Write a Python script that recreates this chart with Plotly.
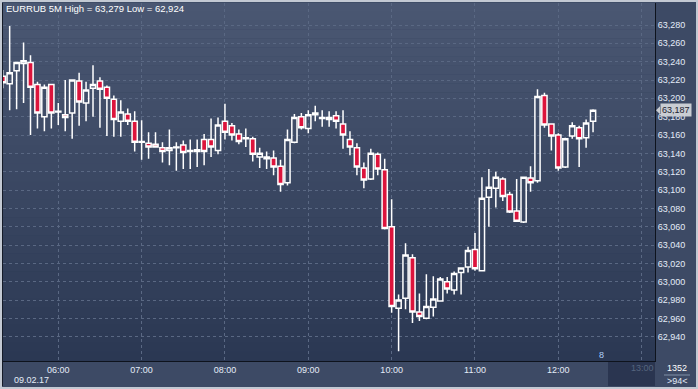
import pandas as pd
import plotly.graph_objects as go

# ---- data (EURRUB, 5-minute candles, 09.02.17) ----
start_time = "2017-02-09 05:20"
opens = [63.224, 63.216, 63.230, 63.238, 63.239, 63.215, 63.180, 63.215, 63.185, 63.182,
         63.184, 63.219, 63.195, 63.211, 63.219, 63.212, 63.199, 63.175, 63.183, 63.175,
         63.152, 63.151, 63.150, 63.146, 63.143, 63.146, 63.149, 63.142, 63.142, 63.155,
         63.155, 63.143, 63.175, 63.170, 63.161, 63.156, 63.156, 63.136, 63.134, 63.135,
         63.126, 63.108, 63.152, 63.180, 63.167, 63.182, 63.178, 63.177, 63.181, 63.172,
         63.155, 63.146, 63.124, 63.112, 63.139, 63.122, 63.060, 62.971, 62.982, 63.026,
         62.967, 62.960, 62.972, 62.979, 63.000, 62.991, 63.010, 63.016, 63.035, 63.012,
         63.092, 63.102, 63.112, 63.095, 63.077, 63.065, 63.113, 63.110, 63.203, 63.172,
         63.160, 63.125, 63.159, 63.168, 63.157, 63.175]
highs = [63.231, 63.279, 63.240, 63.261, 63.247, 63.218, 63.215, 63.216, 63.195, 63.220,
         63.220, 63.228, 63.218, 63.236, 63.223, 63.214, 63.203, 63.198, 63.189, 63.186,
         63.176, 63.163, 63.163, 63.152, 63.166, 63.152, 63.154, 63.155, 63.155, 63.161,
         63.178, 63.179, 63.194, 63.173, 63.166, 63.167, 63.158, 63.146, 63.142, 63.143,
         63.133, 63.166, 63.183, 63.184, 63.187, 63.192, 63.187, 63.186, 63.186, 63.187,
         63.164, 63.151, 63.130, 63.145, 63.141, 63.134, 63.090, 62.986, 63.042, 63.030,
         62.987, 63.008, 63.006, 63.005, 63.005, 63.011, 63.015, 63.038, 63.053, 63.114,
         63.123, 63.120, 63.114, 63.098, 63.112, 63.114, 63.126, 63.210, 63.206, 63.172,
         63.162, 63.157, 63.174, 63.170, 63.177, 63.188]
lows = [63.211, 63.187, 63.188, 63.195, 63.160, 63.167, 63.164, 63.167, 63.171, 63.164,
        63.156, 63.170, 63.175, 63.180, 63.168, 63.159, 63.158, 63.158, 63.171, 63.142,
        63.133, 63.134, 63.146, 63.130, 63.127, 63.121, 63.123, 63.123, 63.125, 63.127,
        63.136, 63.139, 63.155, 63.154, 63.150, 63.147, 63.131, 63.124, 63.123, 63.116,
        63.098, 63.105, 63.151, 63.166, 63.162, 63.175, 63.169, 63.169, 63.167, 63.145,
        63.138, 63.116, 63.102, 63.111, 63.116, 63.057, 62.966, 62.924, 62.970, 62.955,
        62.957, 62.959, 62.962, 62.978, 62.987, 62.986, 62.986, 63.010, 63.012, 63.012,
        63.060, 63.081, 63.088, 63.075, 63.065, 63.064, 63.098, 63.108, 63.168, 63.143,
        63.121, 63.124, 63.156, 63.125, 63.146, 63.163]
closes = [63.217, 63.228, 63.239, 63.241, 63.212, 63.184, 63.212, 63.184, 63.186, 63.179,
          63.220, 63.196, 63.209, 63.215, 63.210, 63.200, 63.177, 63.185, 63.175, 63.152,
          63.153, 63.147, 63.147, 63.142, 63.146, 63.147, 63.141, 63.143, 63.144, 63.142,
          63.147, 63.171, 63.163, 63.160, 63.153, 63.157, 63.139, 63.140, 63.136, 63.125,
          63.106, 63.155, 63.179, 63.168, 63.182, 63.184, 63.179, 63.179, 63.175, 63.160,
          63.147, 63.125, 63.111, 63.140, 63.123, 63.058, 62.973, 62.980, 63.029, 62.967,
          62.962, 62.973, 62.981, 63.003, 62.992, 63.009, 63.015, 63.034, 63.014, 63.091,
          63.103, 63.114, 63.093, 63.076, 63.066, 63.114, 63.108, 63.202, 63.171, 63.159,
          63.124, 63.156, 63.170, 63.156, 63.173, 63.187]
times = pd.date_range(start_time, periods=len(opens), freq="5min")

title_text = "EURRUB 5M High = 63,279 Low = 62,924"
last_price = 63.187
y_ticks = [62.940, 62.960, 62.980, 63.000, 63.020, 63.040, 63.060, 63.080, 63.100,
           63.120, 63.140, 63.160, 63.180, 63.200, 63.220, 63.240, 63.260, 63.280]
x_ticks = ["2017-02-09 06:00", "2017-02-09 07:00", "2017-02-09 08:00", "2017-02-09 09:00",
           "2017-02-09 10:00", "2017-02-09 11:00", "2017-02-09 12:00", "2017-02-09 13:00"]
x_ticktext = ["06:00", "07:00", "08:00", "09:00", "10:00", "11:00", "12:00", ""]
date_label = "09.02.17"

# ---- layout geometry (pixels) ----
W, H = 698, 389
L, R, T, B = 3, 43, 3, 28
PW, PH = W - L - R, H - T - B


def px(x):
    return (x - L) / PW


def py(y):
    return (T + PH - y) / PH


FONT = "Liberation Sans, Arial, sans-serif"
fig = go.Figure()
fig.add_trace(go.Candlestick(
    x=times, open=opens, high=highs, low=lows, close=closes,
    increasing=dict(line=dict(color="#ffffff", width=1.5), fillcolor="rgba(0,0,0,0)"),
    decreasing=dict(line=dict(color="#ffffff", width=1.5), fillcolor="#dc143c"),
    whiskerwidth=0, showlegend=False, hoverinfo="skip",
))

shapes = []
# vertical gradient background of the plot area
top_c = (0x4a, 0x57, 0x72)
bot_c = (0x2b, 0x38, 0x53)
n = 40
for i in range(n):
    f = i / (n - 1)
    c = tuple(round(top_c[k] + (bot_c[k] - top_c[k]) * f) for k in range(3))
    shapes.append(dict(type="rect", xref="paper", yref="paper", x0=0, x1=1,
                       y0=1 - (i + 1) / n, y1=1 - i / n + 0.001,
                       fillcolor="rgb(%d,%d,%d)" % c, line=dict(width=0), layer="below"))
# dark "future" band on the time axis
shapes.append(dict(type="rect", xref="paper", yref="paper", x0=px(608), x1=1,
                   y0=py(386), y1=0, fillcolor="#2a3550", line=dict(width=0), layer="below"))
# left dark edge line
shapes.append(dict(type="line", xref="paper", yref="paper", x0=px(2.5), x1=px(2.5),
                   y0=py(386), y1=1, line=dict(color="#151b28", width=1)))
# underline in the corner box
shapes.append(dict(type="line", xref="paper", yref="paper", x0=px(664), x1=px(690),
                   y0=py(375), y1=py(375), line=dict(color="#8090a8", width=1)))
# small pointer of the last-price marker
shapes.append(dict(type="path", xref="paper", yref="paper",
                   path="M %f,%f L %f,%f L %f,%f Z" % (px(656), py(110.3), px(660), py(106.3),
                                                      px(660), py(114.3)),
                   fillcolor="#c9cdd3", line=dict(width=0)))
# outer light frame
shapes.append(dict(type="rect", xref="paper", yref="paper", x0=px(1), x1=px(697),
                   y0=py(388), y1=py(1), line=dict(color="#c3c9d3", width=2)))

annotations = [
    dict(text=title_text, xref="paper", yref="paper", x=px(4), y=py(8), xanchor="left",
         yanchor="middle", showarrow=False, font=dict(family=FONT, size=9.5, color="#ffffff")),
    dict(text=date_label, xref="paper", yref="paper", x=px(12), y=py(380), xanchor="left",
         yanchor="middle", showarrow=False, font=dict(family=FONT, size=9, color="#e4ecf8")),
    dict(text="13:00", xref="paper", yref="paper", x=px(642), y=py(368), xanchor="center",
         yanchor="middle", showarrow=False, font=dict(family=FONT, size=9, color="#56657f")),
    dict(text="8", xref="paper", yref="paper", x=px(601), y=py(355), xanchor="center",
         yanchor="middle", showarrow=False, font=dict(family=FONT, size=9, color="#b0d0f8")),
    dict(text="1352", xref="paper", yref="paper", x=px(677), y=py(368), xanchor="center",
         yanchor="middle", showarrow=False, font=dict(family=FONT, size=9, color="#ffffff")),
    dict(text="&gt;94&lt;", xref="paper", yref="paper", x=px(677), y=py(381), xanchor="center",
         yanchor="middle", showarrow=False, font=dict(family=FONT, size=9, color="#e4ecf8")),
    dict(text="63,187", xref="paper", yref="y", x=px(660), y=last_price, xanchor="left",
         yanchor="middle", showarrow=False, bgcolor="#c9cdd3", borderpad=1,
         font=dict(family=FONT, size=9, color="#1c2230")),
]

fig.update_layout(
    width=W, height=H, margin=dict(l=L, r=R, t=T, b=B, pad=0),
    paper_bgcolor="#3d4a65", plot_bgcolor="#2b3853",
    separators=", ", boxgap=0.25, boxgroupgap=0,
    shapes=shapes, annotations=annotations,
    font=dict(family=FONT, size=9, color="#dfe7f4"),
    xaxis=dict(type="date", range=["2017-02-09 05:20:12", "2017-02-09 13:09:36"],
               tickvals=x_ticks, ticktext=x_ticktext, showgrid=True,
               gridcolor="#5a6883", griddash="3px,3px", gridwidth=1,
               showline=True, linecolor="#0e131d", linewidth=1, ticks="",
               rangeslider=dict(visible=False), zeroline=False, fixedrange=True,
               tickfont=dict(family=FONT, size=9, color="#e4ecf8")),
    yaxis=dict(side="right", range=[62.9135, 63.304], tickvals=y_ticks, tickformat=".3f",
               showgrid=True, gridcolor="#5a6883", griddash="3px,3px", gridwidth=1,
               showline=True, linecolor="#0e131d", linewidth=1, ticks="", zeroline=False,
               tickfont=dict(family=FONT, size=9, color="#e4ecf8")),
)

fig.write_html("out.html", config={"displayModeBar": False, "staticPlot": True},
               post_script="document.body.style.margin='0';document.body.style.padding='0';"
                           "document.body.style.overflow='hidden';")
